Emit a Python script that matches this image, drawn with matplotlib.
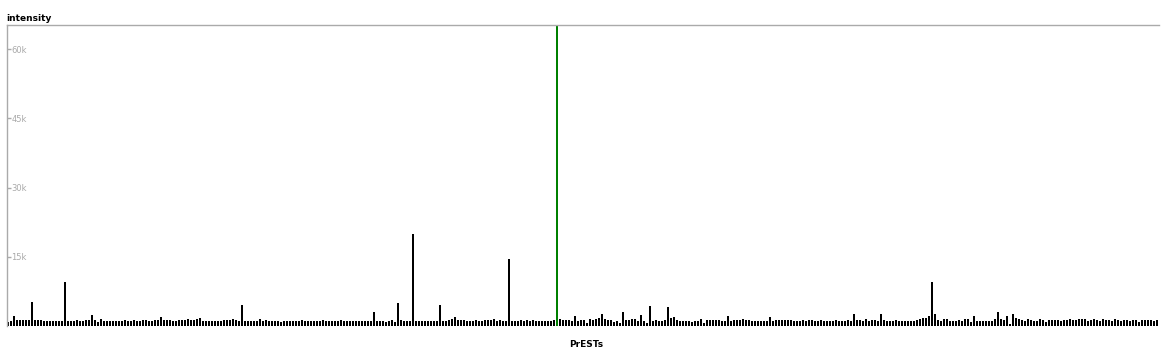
import numpy as np
from matplotlib import pyplot as plt
from matplotlib.ticker import FuncFormatter

# intensity per PrEST (left to right)
seg_a = [900, 1100, 2200, 1300, 1300, 1300, 1300, 1300, 5200, 1300, 1400, 1300, 1100, 1100, 1100, 1100,
         1100, 1100, 1100, 9500, 1100, 1100, 1100, 1300, 1100, 1100, 1400, 1300, 2300, 1300, 900, 1500,
         1100, 1100, 1100, 1100, 1100, 1100, 1100, 1300, 1000, 1100, 1300, 1000, 1000, 1400, 1300, 1100,
         1100, 1400, 1300, 1900, 1300, 1300, 1300, 1100, 1100, 1300, 1300, 1300, 1500, 1300, 1300, 1500]
seg_b = [1700, 1000, 1100, 1100, 1000, 1100, 1000, 1000, 1300, 1300, 1300, 1500, 1300, 1100, 4500, 1100,
         1100, 1100, 1100, 1100, 1500, 1100, 1300, 1100, 1000, 1100, 1100, 800, 1100, 1000, 1000, 1000,
         1100, 1000, 1300, 1100, 1100, 1100, 1100, 1100, 1100, 1300, 1100, 1100, 1100, 1100, 1100, 1300,
         1100, 1100, 1000, 1100, 1000, 1100, 1100, 1000, 1100, 1100, 3000, 1000, 1100, 1100, 900, 1100]
seg_c = [1300, 900, 5000, 1300, 1100, 1100, 1100, 20000, 1000, 1100, 1100, 1100, 1000, 1100, 1000, 1000,
         4500, 1100, 1100, 1300, 1500, 2000, 1300, 1300, 1300, 1100, 1100, 1100, 1300, 1100, 1100, 1300,
         1300, 1300, 1500, 1100, 1300, 1000, 1100, 14500, 1100, 1100, 1100, 1300, 1100, 1300, 1100, 1300,
         1000, 1000, 1000, 1000, 1000, 1000, 1300, 65200, 1500, 1300, 1300, 1300, 1100, 2200, 1100, 1300]
seg_d = [1300, 650, 1500, 1300, 1500, 1700, 2600, 1600, 1300, 1300, 900, 1100, 650, 3000, 1300, 1300,
         1500, 1500, 1100, 2400, 1100, 650, 4300, 1100, 1300, 1100, 1100, 1300, 4100, 1700, 1900, 1300,
         1100, 1000, 1100, 1100, 900, 1100, 1100, 1500, 650, 1300, 1300, 1300, 1300, 1300, 1100, 1100,
         2200, 1100, 1300, 1300, 1300, 1500, 1300, 1300, 1000, 1000, 1100, 1100, 1100, 1100, 1900, 1100]
seg_e = [1300, 1300, 1300, 1300, 1300, 1300, 1100, 1000, 1100, 1300, 1100, 1300, 1300, 1100, 1100, 1300,
         1000, 1000, 1000, 1100, 1300, 1100, 1100, 1100, 1300, 1100, 2600, 1300, 1300, 1100, 1500, 1100,
         1300, 1300, 1100, 2600, 1300, 1100, 1100, 1100, 1300, 1100, 1100, 1100, 1100, 1000, 1100, 1300,
         1500, 1700, 1700, 2200, 9500, 2600, 1300, 1100, 1500, 1500, 1100, 1100, 1100, 1300, 1100, 1500]
seg_f = [1500, 860, 2200, 1100, 1100, 1000, 1000, 1100, 1100, 1500, 3000, 1500, 1300, 2200, 430, 2600,
         1700, 1500, 1300, 1100, 1500, 1300, 1100, 1100, 1500, 1300, 900, 1300, 1300, 1300, 1300, 1100,
         1300, 1300, 1500, 1300, 1300, 1500, 1500, 1500, 1100, 1300, 1500, 1300, 1100, 1500, 1300, 1300,
         1100, 1500, 1300, 1100, 1300, 1300, 1100, 1300, 1300, 900, 1300, 1300, 1300, 1300, 1100, 1300]

intensity = seg_a + seg_b + seg_c + seg_d + seg_e + seg_f
highlight = 183  # the selected PrEST, drawn in green
y_ticks = [15000, 30000, 45000, 60000]
y_max = 65200

fig = plt.figure(figsize=(11.64, 3.5), dpi=100)
# 3 px per bar: 384 bars -> 1152 px wide
ax = fig.add_axes([7 / 1164, 24 / 350, 1152 / 1164, 301 / 350])

x = np.arange(len(intensity))
colors = ['black'] * len(intensity)
colors[highlight] = '#008000'
ax.bar(x, intensity, width=2 / 3, color=colors, linewidth=0, antialiased=False)

# small shift so bar edges don't sit exactly on pixel borders
off = 0.1 / 3
ax.set_xlim(-1 / 3 - off, len(intensity) - 1 / 3 - off)
ax.set_ylim(0, y_max)

# only left and top lines, grey
for side in ['right', 'bottom']:
    ax.spines[side].set_visible(False)
for side in ['left', 'top']:
    ax.spines[side].set_color('#aaaaaa')
    ax.spines[side].set_linewidth(1)

ax.set_xticks([])
ax.set_yticks(y_ticks)
ax.yaxis.set_major_formatter(FuncFormatter(lambda v, p: f"{int(v / 1000)}k"))
ax.tick_params(axis='y', direction='in', length=3, width=1, color='#aaaaaa',
               pad=-3, labelsize=6, labelcolor='#aaaaaa')
for lab in ax.get_yticklabels():
    lab.set_ha('left')

fig.text(6 / 1164, 1 - 21 / 350, "intensity", fontsize=6.5, fontweight='bold', color='black',
         ha='left', va='baseline')
fig.text(586 / 1164, 1 - 347 / 350, "PrESTs", fontsize=6.5, fontweight='bold', color='black',
         ha='center', va='baseline')

plt.savefig("out.png", dpi=100)
